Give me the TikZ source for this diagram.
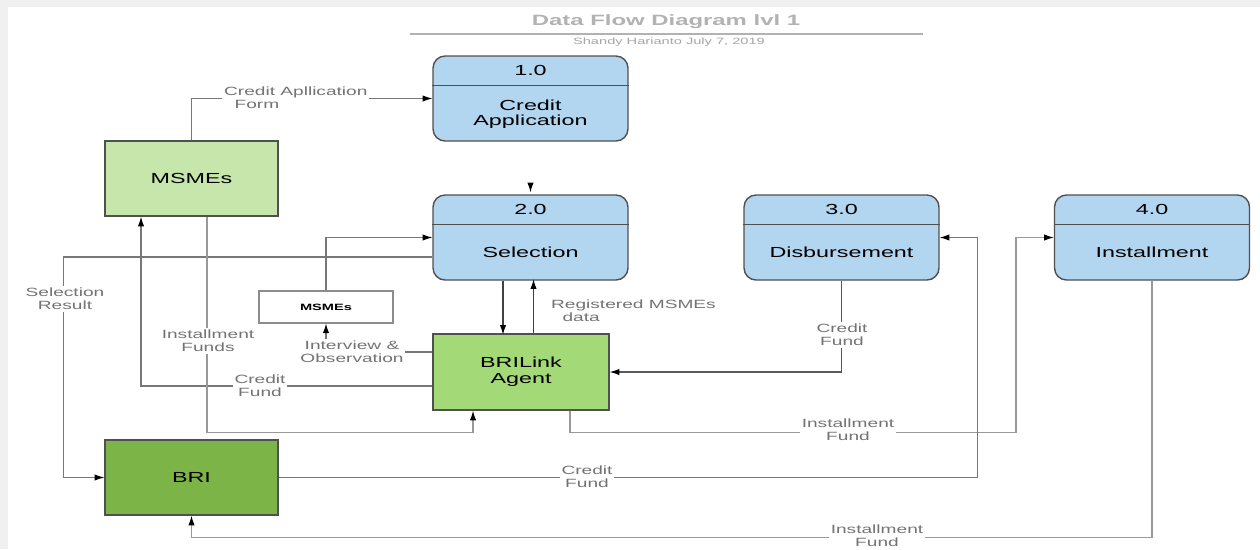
\documentclass[tikz,border=0pt]{standalone}
\usepackage{fontspec}
\setmainfont{Liberation Sans}[FakeStretch=1.6]
\usepackage{tikz}
\usetikzlibrary{arrows.meta, positioning, calc}

\definecolor{procblue}{RGB}{178,213,240}
\definecolor{msmegreen}{RGB}{198,230,171}
\definecolor{agentgreen}{RGB}{163,217,119}
\definecolor{brigreen}{RGB}{124,180,71}
\definecolor{boxgray}{RGB}{80,80,80}
\definecolor{linegray}{RGB}{120,120,120}
\definecolor{labelgray}{RGB}{115,115,115}

\tikzset{
    proc/.style={draw=boxgray, line width=0.8pt, fill=procblue, rounded corners=0.24cm,
        minimum width=3.9cm, minimum height=1.7cm, inner sep=0pt},
    ext/.style={draw=boxgray, line width=0.8pt, minimum width=3.46cm, minimum height=1.5cm, inner sep=0pt},
    flow/.style={draw=linegray, line width=0.6pt, -{Latex[length=5.5pt, width=3.6pt, color=black]}},
    lbl/.style={fill=white, text=labelgray, font=\fontsize{6.8}{7.4}\selectfont, align=center, inner sep=1pt},
    txt/.style={font=\fontsize{8.3}{9}\selectfont, align=center, inner sep=0pt},
}

\begin{document}
\begin{tikzpicture}[x=0.02cm, y=-0.02cm]
        % Page frame
        \fill[black!6] (0,0) rectangle (1260,549);
        \fill[white] (8,7) rectangle (1260,549);

        % Title
        \node[font=\bfseries\fontsize{8.5}{10}\selectfont, text=black!30] (title) at (666,22) {Data Flow Diagram lvl 1};
        \draw[black!30, line width=0.6pt] (410,34) -- (923,34);
        \node[font=\fontsize{5.2}{6}\selectfont, text=black!35] (author) at (669,42) {Shandy Harianto July 7, 2019};

        % Processes
        \node[proc] (p1) at (530.5,98.5) {};
        \node[proc] (p2) at (530.5,237.5) {};
        \node[proc] (p3) at (841.5,237.5) {};
        \node[proc] (p4) at (1152,237.5) {};

        % Process header dividers
        \draw[boxgray, line width=0.6pt] ([yshift=-0.6cm]p1.north west) -- ([yshift=-0.6cm]p1.north east);
        \draw[boxgray, line width=0.6pt] ([yshift=-0.6cm]p2.north west) -- ([yshift=-0.6cm]p2.north east);
        \draw[boxgray, line width=0.6pt] ([yshift=-0.6cm]p3.north west) -- ([yshift=-0.6cm]p3.north east);
        \draw[boxgray, line width=0.6pt] ([yshift=-0.6cm]p4.north west) -- ([yshift=-0.6cm]p4.north east);

        % Process numbers and names
        \node[txt] (p1num) at ([yshift=-0.3cm]p1.north) {1.0};
        \node[txt] (p2num) at ([yshift=-0.3cm]p2.north) {2.0};
        \node[txt] (p3num) at ([yshift=-0.3cm]p3.north) {3.0};
        \node[txt] (p4num) at ([yshift=-0.3cm]p4.north) {4.0};
        \node[txt] (p1name) at ([yshift=-1.18cm]p1.north) {Credit\\Application};
        \node[txt] (p2name) at ([yshift=-1.15cm]p2.north) {Selection};
        \node[txt] (p3name) at ([yshift=-1.15cm]p3.north) {Disbursement};
        \node[txt] (p4name) at ([yshift=-1.15cm]p4.north) {Installment};

        % External entities
        \node[ext, fill=msmegreen, txt] (msmes) at (191.5,178.5) {MSMEs};
        \node[ext, fill=brigreen, txt] (bri) at (191.5,477.5) {BRI};
        \node[ext, fill=agentgreen, txt, minimum width=3.52cm, minimum height=1.52cm] (agent) at (521,372) {BRILink\\Agent};
        \node[draw=black!45, line width=0.6pt, fill=white, minimum width=2.68cm, minimum height=0.64cm,
            font=\bfseries\fontsize{5.2}{6}\selectfont] (msmes2) at (326,307) {MSMEs};

        % Data flows
        \draw[flow] (msmes.north) |- (p1.west);
        \draw[flow] ([yshift=0.22cm]p2.north) -- ([yshift=0.04cm]p2.north);
        \draw[flow] ([yshift=-0.39cm]p2.west) -- ++(-369,0) |- (bri.west);
        \draw[flow] (msmes2.north) |- (p2.west);
        \draw[flow] ([yshift=0.4cm]agent.west) -| (msmes2.south);
        \draw[flow, draw=black!75] ([xshift=-0.55cm]p2.south) -- ++(0,54);
        \draw[flow, draw=black!75] ([xshift=0.25cm]agent.north) -- ++(0,-54);
        \draw[flow, draw=black!65] (p3.south) |- (agent.east);
        \draw[flow] ([yshift=-0.28cm]agent.west) -| ([xshift=-1.01cm]msmes.south);
        \draw[flow, draw=black!40] ([xshift=0.31cm]msmes.south) -- ++(0,216) -| ([xshift=-0.96cm]agent.south);
        \draw[flow, draw=black!40] ([xshift=0.98cm]agent.south) -- ++(0,22) -- ++(446,0) |- (p4.west);
        \draw[flow] (bri.east) -- ++(699,0) |- (p3.east);
        \draw[flow, draw=black!40] (p4.south) -- ++(0,257) -| (bri.south);

        % Flow labels
        \node[lbl, align=left, anchor=west] (lform) at (222,97.5) {Credit Apllication\\\hspace*{6pt}Form};
        \node[lbl] (lselect) at (65,299) {Selection\\Result};
        \node[lbl] (linstfunds) at (208,341) {Installment\\Funds};
        \node[lbl] (linterview) at (352,352) {Interview \&\\Observation};
        \node[lbl] (lcredit1) at (260,386) {Credit\\Fund};
        \node[lbl, align=left, anchor=west] (lregist) at (549,311) {Registered MSMEs\\\hspace*{6.5pt}data};
        \node[lbl] (lcredit2) at (842,335) {Credit\\Fund};
        \node[lbl] (linst1) at (848,430) {Installment\\Fund};
        \node[lbl] (lcredit3) at (587,477) {Credit\\Fund};
        \node[lbl] (linst2) at (877,536) {Installment\\Fund};
    \end{tikzpicture}
\end{document}
